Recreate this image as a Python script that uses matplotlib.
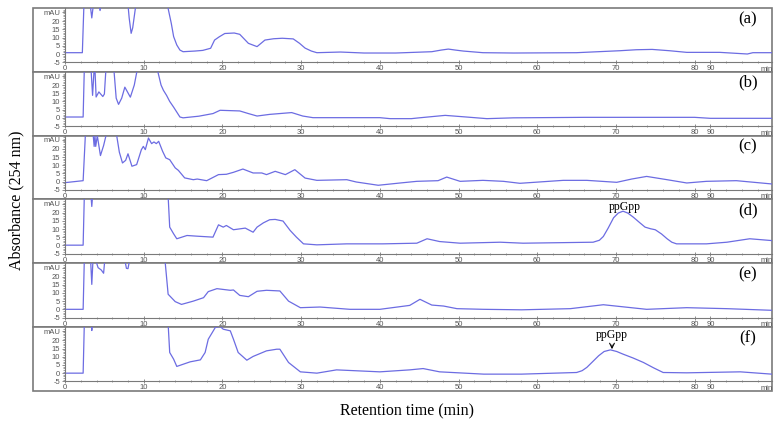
import matplotlib
matplotlib.use("Agg")
import matplotlib.pyplot as plt
from matplotlib.patches import Rectangle
import numpy as np

# retention time (min) / absorbance (mAU)
t_a = [0, 2.2, 2.4, 3.2, 3.4, 3.6, 4.3, 4.45, 4.6, 8.0, 8.15, 8.4, 8.6, 9.0,
       13.0, 13.5, 13.8, 14.2, 14.6, 15.0, 16.5, 17.5, 18.5, 19.0, 19.6, 20.3,
       21.5, 22.2, 22.8, 23.3, 24.4, 25.4, 26.5, 27.6, 29.0, 29.8, 30.5, 31.3,
       32.0, 35.0, 38.0, 42.0, 46.6, 47.8, 48.7, 49.6, 50.6, 53.1, 57.0, 65.0,
       70.5, 72.6, 74.6, 76.8, 79.0, 83.2, 86.7, 87.4, 89.8]
y_a = [0.8, 0.8, 30, 30, 22, 30, 30, 26.5, 30, 30, 22, 12.6, 16, 30,
       30, 18.7, 10.6, 5.5, 2.4, 1.4, 1.8, 2.2, 3.5, 8.5, 10.5, 12.5,
       12.8, 12.0, 9.0, 6.5, 4.5, 8.5, 9.3, 9.6, 9.2, 6.5, 3.6, 1.8,
       0.8, 1.2, 0.6, 0.6, 1.4, 2.4, 3.0, 2.4, 1.8, 0.8, 0.6, 0.8,
       2.0, 2.6, 2.8, 2.0, 1.0, 1.0, 0.0, 0.8, 0.8]

t_b = [0, 2.3, 2.45, 3.3, 3.5, 3.7, 3.8, 3.95, 4.3, 4.8, 5.0, 5.2, 6.2, 6.5,
       6.8, 7.2, 7.6, 8.3, 8.8, 9.2, 11.7, 12.2, 12.5, 12.9, 13.3, 13.8, 14.6,
       15.0, 17.0, 18.8, 19.7, 22.2, 23.3, 24.4, 26.0, 28.8, 30.2, 31.5, 40.0,
       41.3, 44.0, 45.0, 48.3, 51.0, 53.6, 57.0, 66.0, 80.0, 82.0, 89.8]
y_b = [0.5, 0.5, 30, 30, 13.7, 30, 30, 12.7, 15.8, 13.0, 14.5, 30, 30, 12.0,
       8.2, 12.0, 18.7, 12.6, 20.0, 30, 30, 20.0, 16.8, 13.7, 10.0, 6.5, 0.5,
       0.0, 1.0, 2.6, 4.6, 4.2, 2.6, 1.1, 2.1, 3.2, 1.1, 0.1, 0.1,
       -0.5, -0.5, 0.0, 1.5, 0.5, -0.5, 0.0, 0.3, 0.3, -0.3, -0.3]

t_c = [0, 2.3, 2.6, 3.55, 3.7, 3.8, 3.9, 4.1, 4.5, 4.9, 5.3, 6.5, 6.9, 7.3,
       7.7, 8.0, 8.5, 9.1, 9.7, 9.95, 10.2, 10.6, 11.0, 11.3, 11.6, 11.9, 12.4,
       12.8, 13.3, 14.0, 14.4, 15.2, 16.3, 16.8, 18.0, 19.5, 20.5, 21.4, 22.6,
       23.9, 25.0, 25.6, 26.7, 28.0, 29.2, 30.5, 32.0, 35.8, 37.0, 39.8, 42.6,
       44.7, 47.4, 48.5, 50.2, 53.1, 55.7, 57.8, 63.3, 66.3, 70.1, 72.0, 73.9,
       76.5, 79.0, 81.5, 85.3, 89.8]
y_c = [-0.6, 0.6, 30, 30, 21.5, 28, 21.5, 28, 15.9, 22, 30, 30, 18, 11.4,
       13, 17, 9.4, 10.4, 19.5, 21.5, 19.5, 26.6, 23.2, 24.2, 23.2, 24.6, 18.5,
       14.5, 13.4, 8.4, 6.9, 2.3, 1.2, 1.6, 0.6, 4.3, 4.5, 5.7, 7.7,
       5.3, 5.3, 4.3, 6.3, 4.3, 7.3, 2.2, 0.8, 1.2, -0.2, -2.2, -0.8,
       0.2, 0.6, 2.8, 0.2, 0.8, 0.2, -1.0, 0.8, 0.8, -0.4, 1.6, 3.2,
       1.2, -0.8, 0.2, 0.6, -1.4]

t_d = [0, 2.3, 2.45, 3.3, 3.4, 3.5, 13.1, 13.3, 13.8, 14.2, 15.5, 16.7, 18.8,
       19.5, 20.1, 20.5, 21.4, 22.9, 23.9, 24.4, 25.2, 26.0, 26.7, 27.7, 28.6,
       29.4, 30.3, 32.0, 35.8, 40.4, 44.7, 46.0, 47.6, 50.2, 55.3, 58.2, 67.1,
       67.9, 68.4, 69.0, 69.7, 70.3, 70.9, 71.5, 72.2, 73.0, 73.7, 74.4, 75.0,
       75.8, 76.5, 77.1, 77.7, 81.5, 84.1, 87.0, 89.8]
y_d = [0.2, 0.2, 30, 30, 23.8, 30, 30, 11.2, 7.1, 4.1, 6.1, 5.7, 5.1,
       12.6, 11.2, 12.2, 9.6, 10.6, 8.1, 11.2, 13.8, 15.7, 15.9, 14.9, 9.2,
       5.1, 1.0, 0.4, 1.0, 1.0, 1.4, 4.1, 2.4, 1.4, 2.0, 1.4, 2.0,
       3.2, 5.5, 10.5, 16.9, 19.8, 20.9, 19.8, 17.3, 14.0, 11.2, 10.2, 9.6,
       7.0, 4.1, 2.0, 1.0, 1.0, 2.0, 4.1, 3.0]

t_e = [0, 2.3, 2.45, 3.25, 3.4, 3.55, 3.9, 4.2, 4.6, 4.9, 5.05, 7.6, 7.8, 8.0,
       8.2, 12.7, 13.1, 14.0, 14.8, 16.3, 17.6, 18.2, 19.3, 21.0, 21.4, 22.2,
       23.3, 24.4, 25.6, 27.3, 28.4, 29.9, 32.4, 36.2, 40.0, 43.8, 45.1, 46.6,
       48.1, 49.8, 53.2, 58.0, 64.2, 68.4, 73.9, 79.0, 84.1, 89.8]
y_e = [0, 0, 30, 30, 15.2, 30, 30, 25.4, 24.0, 22.0, 30, 30, 25.0, 24.8,
       30, 30, 9.2, 4.7, 3.0, 5.0, 7.1, 10.8, 12.6, 11.6, 11.8, 8.5,
       7.7, 11.0, 11.6, 11.2, 5.0, 1.0, 1.4, 0.0, 0.0, 2.4, 6.1, 2.6,
       2.0, 0.4, 0.0, -0.3, 0.4, 2.8, 0.0, 1.0, 0.4, -0.6]

t_f = [0, 2.3, 2.45, 3.35, 3.4, 3.45, 13.1, 13.3, 13.8, 14.2, 15.9, 17.2, 17.8,
       18.2, 19.1, 19.7, 20.1, 21.0, 21.4, 22.0, 23.1, 23.9, 25.6, 26.9, 27.3,
       28.4, 29.9, 32.0, 34.5, 40.0, 43.8, 45.5, 47.6, 53.2, 58.0, 65.0, 65.7,
       66.3, 67.0, 67.8, 68.5, 69.3, 70.1, 70.9, 72.2, 73.5, 74.8, 76.0, 79.0,
       85.8, 89.8]
y_f = [0, 0, 30, 30, 26, 30, 30, 12.6, 8.5, 4.1, 6.9, 8.1, 12.6,
       20.7, 27.9, 28.5, 26.8, 25.8, 20.7, 12.6, 7.9, 10.2, 13.6, 14.6, 14.6,
       6.5, 0.8, 0.0, 2.0, 0.8, 2.0, 2.8, 0.8, -0.6, -0.6, 0.4, 1.5,
       3.5, 6.8, 10.6, 13.2, 14.2, 13.2, 11.6, 9.2, 6.5, 3.2, 0.4, 0.2,
       0.8, -0.6]

traces = [(t_a, y_a), (t_b, y_b), (t_c, y_c), (t_d, y_d), (t_e, y_e), (t_f, y_f)]
panel_names = ['(a)', '(b)', '(c)', '(d)', '(e)', '(f)']

xtick_pos = [0, 10, 20, 30, 40, 50, 60, 70, 80, 82]
xtick_lab = ['0', '10', '20', '30', '40', '50', '60', '70', '80', '90']
ytick_pos = [-5, 0, 5, 10, 15, 20, 25.5]
ytick_lab = ['-5', '0', '5', '10', '15', '20', 'mAU']

W, H = 783, 423
fig = plt.figure(figsize=(W / 100, H / 100), dpi=100)

left_px, right_px = 33, 772
top_px, ph = 8, 63.83
line_col = '#6c6ce2'
grey = '#7a7a7a'
sans = ['Liberation Sans', 'DejaVu Sans']
serif = ['Liberation Serif', 'DejaVu Serif']

for i, (t, y) in enumerate(traces):
    top = top_px + i * ph
    ax = fig.add_axes([left_px / W, 1 - (top + ph) / H,
                       (right_px - left_px) / W, ph / H])
    ax.plot(t, y, color=line_col, lw=0.9)
    ax.set_xlim(-4.07, 89.83)
    ax.set_ylim(-10.87, 28.05)

    for s in ['top', 'right']:
        ax.spines[s].set_visible(False)
    ax.spines['left'].set_position(('data', 0))
    ax.spines['left'].set_bounds(-5, 28.05)
    ax.spines['bottom'].set_position(('data', -5))
    ax.spines['bottom'].set_bounds(0, 89.83)
    for s in ['left', 'bottom']:
        ax.spines[s].set_color(grey)
        ax.spines[s].set_linewidth(0.8)

    ax.set_xticks(xtick_pos)
    ax.set_xticklabels(xtick_lab)
    ax.set_xticks(np.arange(0, 89, 2), minor=True)
    ax.set_yticks(ytick_pos)
    ax.set_yticklabels(ytick_lab)
    ax.set_yticks(np.arange(-5, 28, 1), minor=True)
    ax.tick_params(which='major', labelsize=5.5, length=2.5, width=0.6,
                   colors=grey, labelcolor='#555555', pad=1)
    ax.tick_params(which='minor', length=1.5, width=0.5, colors=grey)
    ax.tick_params(axis='x', which='both', direction='inout')
    for lab in ax.get_xticklabels() + ax.get_yticklabels():
        lab.set_family(sans)
    ax.text(89.2, -9.3, 'min', fontsize=5.5, color='#555555', family=sans,
            ha='center', va='center')

    # outer frame of each panel
    ax.add_patch(Rectangle((0, 0), 1, 1, transform=ax.transAxes, fill=False,
                           ec=grey, lw=1.2, clip_on=False))
    ax.text(0.9675, 0.828, panel_names[i], transform=ax.transAxes,
            fontsize=12, family=serif, ha='center', va='center')

    if i == 3:
        ax.text(71.1, 23.4, 'ppGpp', fontsize=8.5, family=serif,
                ha='center', va='center')
    if i == 5:
        ax.annotate('ppGpp', xy=(69.5, 14.6), xytext=(69.5, 23.4),
                    fontsize=8.5, family=serif, ha='center', va='center',
                    arrowprops=dict(arrowstyle='->', lw=0.8, color='black',
                                    shrinkA=1, shrinkB=0))

fig.text(16 / W, 1 - 200 / H, 'Absorbance (254 nm)', rotation=90,
         fontsize=11.5, family=serif, ha='center', va='center')
fig.text(407 / W, 1 - 411 / H, 'Retention time (min)',
         fontsize=11.5, family=serif, ha='center', va='center')

fig.savefig('out.png', dpi=100)
